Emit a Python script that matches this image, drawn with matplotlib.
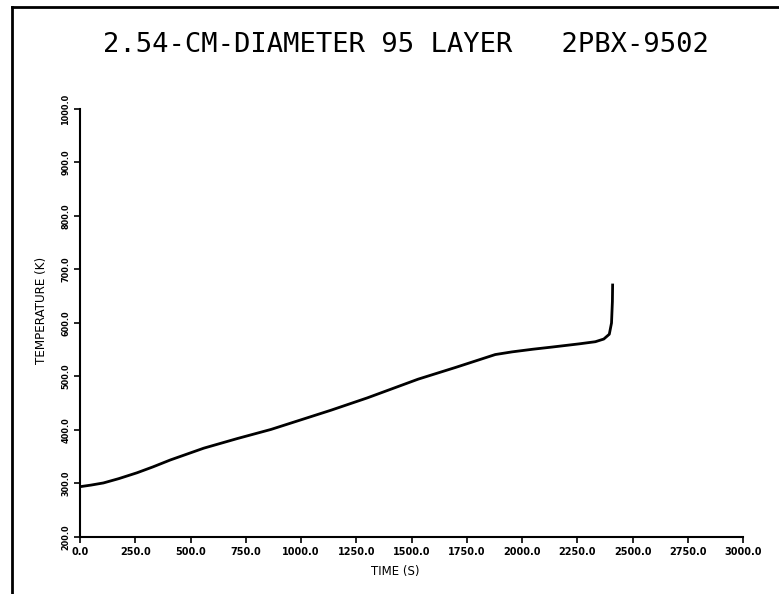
# Temperature history of a 2.54-cm PBX-9502 sphere (95 layer)

import matplotlib.pyplot as plt
from matplotlib.lines import Line2D

# time [s] and temperature [K]
time_s = [0, 50, 106, 175, 258, 330, 409, 560, 712, 864, 1000, 1136,
          1300, 1530, 1700, 1879, 1955, 2050, 2136, 2259, 2332, 2370,
          2395, 2405, 2409, 2410]
temp_k = [294, 297, 301, 309, 320, 331, 344, 366, 384, 401, 419, 437,
          460, 495, 517, 541, 546, 551, 555, 561, 565, 570,
          579, 600, 640, 671]

x_ticks = [0, 250, 500, 750, 1000, 1250, 1500, 1750, 2000, 2250, 2500, 2750, 3000]
y_ticks = [200, 300, 400, 500, 600, 700, 800, 900, 1000]

fig = plt.figure(figsize=(7.79, 5.94), dpi=100, facecolor='white')
ax = fig.add_axes([0.1027, 0.0960, 0.8511, 0.7205])

ax.plot(time_s, temp_k, color='black', lw=2.0, solid_joinstyle='round')

ax.set_xlim(0, 3000)
ax.set_ylim(200, 1000)
ax.set_xticks(x_ticks)
ax.set_yticks(y_ticks)
ax.set_xticklabels(['%.1f' % v for v in x_ticks], fontsize=7, fontweight='bold')
ax.set_yticklabels(['%.1f' % v for v in y_ticks], fontsize=6.5, fontweight='bold',
                   fontstretch='condensed', rotation=90, va='center')
ax.tick_params(direction='out', length=4, width=1.2, pad=3)

for side in ['top', 'right']:
    ax.spines[side].set_visible(False)
for side in ['left', 'bottom']:
    ax.spines[side].set_linewidth(1.5)

ax.set_xlabel('TIME (S)', fontsize=8.5)
ax.set_ylabel('TEMPERATURE (K)', fontsize=9.5, fontstretch='condensed')
ax.xaxis.set_label_coords(0.475, -0.065)
ax.yaxis.set_label_coords(-0.048, 0.53)

fig.text(0.5205, 0.924, '2.54-CM-DIAMETER 95 LAYER   2PBX-9502',
         ha='center', va='center', fontsize=19.5, family='DejaVu Sans Mono')

# frame of the scanned page (top and left edges only)
fig.add_artist(Line2D([0.0154, 1.0], [0.988, 0.988], transform=fig.transFigure,
                      color='black', lw=2))
fig.add_artist(Line2D([0.0154, 0.0154], [0.0, 0.988], transform=fig.transFigure,
                      color='black', lw=2))

fig.savefig('out.png', dpi=100, facecolor='white')
